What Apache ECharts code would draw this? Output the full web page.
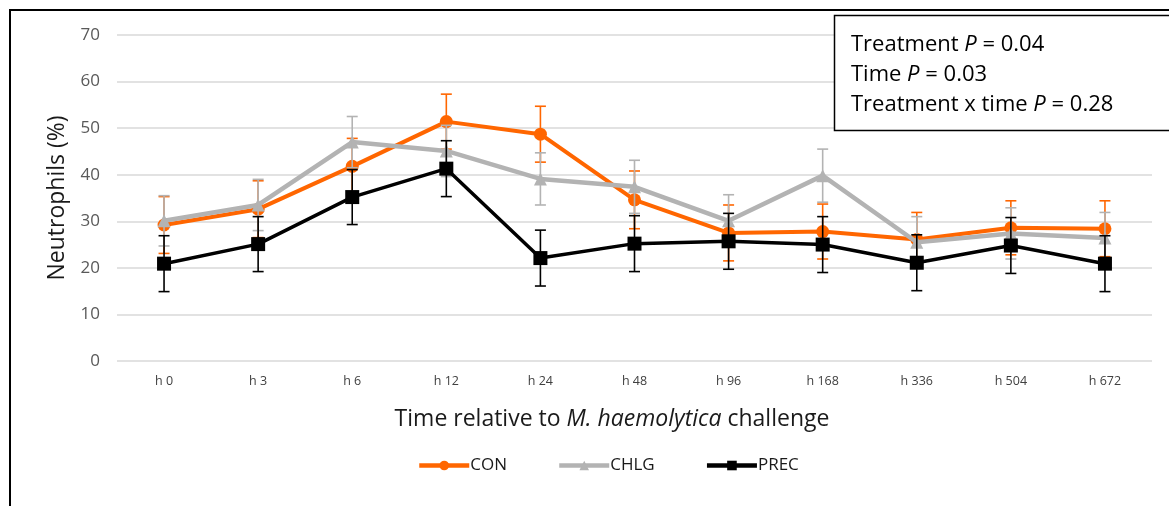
<!DOCTYPE html>
<html>
<head>
<meta charset="utf-8">
<script src="https://cdn.jsdelivr.net/npm/echarts@6/dist/echarts.min.js"></script>
<style>
  html, body { margin: 0; padding: 0; background: #fff; }
  #chart { width: 1169px; height: 506px; }
</style>
</head>
<body>
<div id="chart"></div>
<script>
// Neutrophil percentage by treatment group over time
const categories = ['h 0', 'h 3', 'h 6', 'h 12', 'h 24', 'h 48', 'h 96', 'h 168', 'h 336', 'h 504', 'h 672'];
const conMean  = [29.2, 32.6, 41.8, 51.4, 48.7, 34.6, 27.5, 27.8, 26.1, 28.6, 28.4];
const conSE    = [6.1, 6.1, 6.0, 5.9, 6.0, 6.2, 6.0, 5.9, 5.8, 5.8, 6.0];
const chlgMean = [30.1, 33.5, 47.0, 45.1, 39.1, 37.4, 30.1, 39.8, 25.5, 27.4, 26.4];
const chlgSE   = [5.4, 5.5, 5.5, 5.5, 5.6, 5.7, 5.6, 5.7, 5.5, 5.5, 5.5];
const precMean = [20.9, 25.1, 35.2, 41.3, 22.1, 25.2, 25.7, 25.0, 21.1, 24.8, 20.9];
const precSE   = [6.0, 5.9, 5.9, 6.0, 6.0, 6.0, 6.0, 6.0, 6.0, 6.0, 6.0];
const yTicks   = { min: 0, max: 70, step: 10 };

const ORANGE = '#FF6600';
const GREY = '#B3B3B3';
const BLACK = '#000000';
const FONT = '"Open Sans", "Noto Sans", sans-serif';

function errorRows(mean, se) {
  return mean.map((m, i) => [i, m - se[i], m + se[i]]);
}

function errorSeries(name, mean, se, color, z) {
  return {
    type: 'custom',
    name: name + ' error',
    z: z,
    silent: true,
    data: errorRows(mean, se),
    encode: { x: 0, y: [1, 2] },
    renderItem: function (params, api) {
      const lo = api.coord([api.value(0), api.value(1)]);
      const hi = api.coord([api.value(0), api.value(2)]);
      const half = 5.5;
      const style = { stroke: color, lineWidth: 1.6 };
      return {
        type: 'group',
        children: [
          { type: 'line', shape: { x1: lo[0], y1: lo[1], x2: hi[0], y2: hi[1] }, style: style },
          { type: 'line', shape: { x1: lo[0] - half, y1: lo[1], x2: lo[0] + half, y2: lo[1] }, style: style },
          { type: 'line', shape: { x1: hi[0] - half, y1: hi[1], x2: hi[0] + half, y2: hi[1] }, style: style }
        ]
      };
    }
  };
}

function lineSeries(name, data, color, symbol, size, width, z) {
  return {
    type: 'line',
    name: name,
    data: data,
    z: z,
    symbol: symbol,
    symbolSize: size,
    showAllSymbol: true,
    lineStyle: { color: color, width: width },
    itemStyle: { color: color, borderWidth: 0 },
    emphasis: { disabled: true },
    animation: false
  };
}

const chart = echarts.init(document.getElementById('chart'), null, { renderer: 'canvas' });

chart.setOption({
  animation: false,
  textStyle: { fontFamily: FONT },
  grid: { left: 117, right: 17, top: 35, bottom: 145, containLabel: false },
  legend: {
    data: ['CON', 'CHLG', 'PREC'],
    left: 412,
    top: 452,
    itemWidth: 50,
    itemHeight: 12,
    itemGap: 50,
    lineStyle: { width: 4.5 },
    textStyle: { fontSize: 17, color: '#1a1a1a', fontFamily: FONT, padding: [0, 0, 0, -4] }
  },
  xAxis: {
    type: 'category',
    data: categories,
    boundaryGap: true,
    axisLine: { show: false },
    axisTick: { show: false },
    axisLabel: { fontSize: 12.5, color: '#404040', margin: 14, fontFamily: FONT }
  },
  yAxis: {
    type: 'value',
    min: yTicks.min,
    max: yTicks.max,
    interval: yTicks.step,
    axisLine: { show: false },
    axisTick: { show: false },
    splitLine: { lineStyle: { color: '#D9D9D9', width: 1.5 } },
    axisLabel: { fontSize: 17, color: '#595959', margin: 17, fontFamily: FONT },
    name: 'Neutrophils (%)',
    nameLocation: 'middle',
    nameGap: 48,
    nameTextStyle: { fontSize: 23, color: '#1a1a1a', fontFamily: FONT }
  },
  series: [
    lineSeries('CON', conMean, ORANGE, 'circle', 13, 4, 2),
    errorSeries('CON', conMean, conSE, ORANGE, 3),
    lineSeries('CHLG', chlgMean, GREY, 'triangle', 13, 4.5, 4),
    errorSeries('CHLG', chlgMean, chlgSE, GREY, 5),
    lineSeries('PREC', precMean, BLACK, 'rect', 14, 3.5, 6),
    errorSeries('PREC', precMean, precSE, BLACK, 7)
  ],
  graphic: [
    {
      type: 'polyline',
      z: 100,
      shape: { points: [[10, 506], [10, 10], [1169, 10]] },
      style: { stroke: '#000', lineWidth: 2, fill: null }
    },
    {
      // x-axis title
      type: 'text',
      z: 100,
      x: 612,
      y: 419,
      style: {
        text: '{r|Time relative to }{i|M. haemolytica}{r| challenge}',
        align: 'center',
        verticalAlign: 'middle',
        rich: {
          r: { fontSize: 23, fill: '#1a1a1a', fontFamily: FONT },
          i: { fontSize: 23, fill: '#1a1a1a', fontFamily: FONT, fontStyle: 'italic' }
        }
      }
    },
    {
      type: 'rect',
      z: 100,
      shape: { x: 834.5, y: 15.5, width: 400, height: 115 },
      style: { stroke: '#000', lineWidth: 1.5, fill: '#fff' }
    },
    {
      type: 'text',
      z: 101,
      left: 851,
      top: 34,
      style: {
        text: '{r|Treatment }{i|P}{r| = 0.04}\n{r|Time }{i|P}{r| = 0.03}\n{r|Treatment x time }{i|P}{r| = 0.28}',
        rich: {
          r: { fontSize: 22, fill: '#000', fontFamily: FONT, lineHeight: 30 },
          i: { fontSize: 22, fill: '#000', fontFamily: FONT, fontStyle: 'italic', lineHeight: 30 }
        }
      }
    }
  ]
});
</script>
</body>
</html>
